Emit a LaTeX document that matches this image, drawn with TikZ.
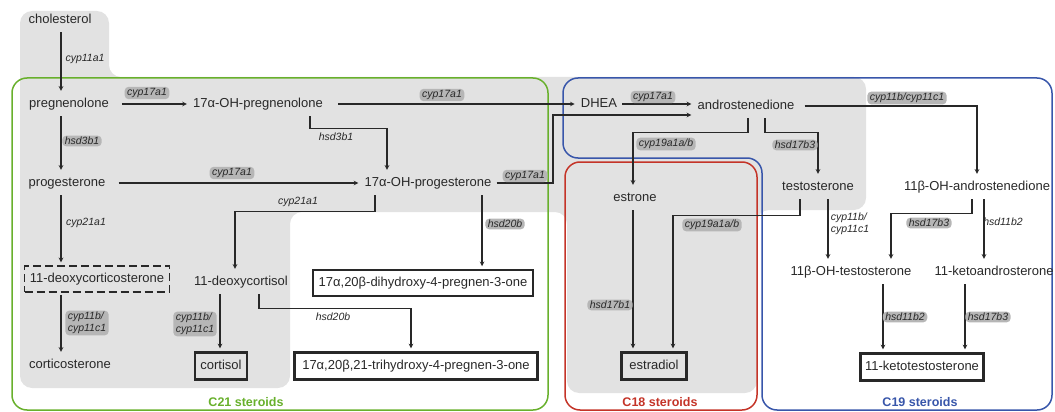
\documentclass[tikz,border=0pt]{standalone}
\usepackage{fontspec}
\setmainfont{Liberation Sans}
\usepackage{tikz}
\usetikzlibrary{calc}

\definecolor{bgray}{RGB}{226,226,226}
\definecolor{bubble}{RGB}{182,182,182}
\definecolor{txt}{RGB}{40,40,40}
\definecolor{c21green}{RGB}{104,176,44}
\definecolor{c18red}{RGB}{196,52,40}
\definecolor{c19blue}{RGB}{56,86,170}

\newcommand{\metfont}{\fontsize{13}{15}\selectfont}
\newcommand{\enzfont}{\fontsize{10.5}{12}\selectfont\itshape}
\newcommand{\grpfont}{\fontsize{12.5}{14}\selectfont\bfseries}

\begin{document}
\begin{tikzpicture}[x=1pt, y=-1pt, >=stealth,
		met/.style={inner xsep=3pt, inner ysep=4pt, text height=9.5pt, text depth=2.5pt, font=\metfont, text=txt},
		midbox/.style={met, draw=txt, line width=1.5pt, minimum height=26pt},
		endbox/.style={met, draw=txt, line width=2.2pt, minimum height=27pt},
		enz/.style={font=\enzfont, text=txt, inner sep=1pt, align=left},
		enzb/.style={enz, fill=bubble, rounded corners=4pt, inner xsep=2.5pt, inner ysep=1.5pt},
		flow/.style={->, line width=1.1pt, draw=txt, shorten >=3pt, shorten <=2pt},
		grp/.style={font=\grpfont}]

		\useasboundingbox (0,0) rectangle (1055,412);

		% Grey background
		\fill[bgray, rounded corners=12pt] (20,11) -- (109,11) -- (109,77) -- (866,77) -- (866,210)
			-- (757,210) -- (757,393) -- (567,393) -- (567,212) -- (290,212) -- (290,388) -- (20,388) -- cycle;

		% Steroid groups
		\draw[c21green, line width=1.5pt, rounded corners=15pt] (12,78) rectangle (548,410);
		\draw[c18red, line width=1.5pt, rounded corners=15pt] (565,162) rectangle (757,410);
		\draw[c19blue, line width=1.5pt, rounded corners=15pt] (563,78) -- (1052,78) -- (1052,410)
			-- (762,410) -- (762,158) -- (563,158) -- cycle;

		\node[grp, text=c21green] (t21) at (246,402) {C21 steroids};
		\node[grp, text=c18red] (t18) at (660,402) {C18 steroids};
		\node[grp, text=c19blue] (t19) at (920,402) {C19 steroids};

		% Row 1
		\node[met] (chol) at (60,20) {cholesterol};
		\node[met] (preg) at (69,104) {pregnenolone};
		\node[met] (ohpreg) at (258,104) {17α-OH-pregnenolone};
		\node[met] (dhea) at (599,104) {DHEA};
		\node[met] (andro) at (746,106) {androstenedione};

		% Row 2
		\node[met] (prog) at (67,183) {progesterone};
		\node[met] (ohprog) at (428,183) {17α-OH-progesterone};
		\node[met] (estrone) at (635,198) {estrone};
		\node[met] (testo) at (818,187) {testosterone};
		\node[met] (ohandro) at (977,187) {11β-OH-androstenedione};

		% Row 3
		\node[midbox, dashed, dash pattern=on 8pt off 4pt, minimum width=145pt] (doc) at (97,279) {11-deoxycorticosterone};
		\node[met] (dcort) at (241,282) {11-deoxycortisol};
		\node[midbox, minimum width=220pt] (dihyd) at (423,283) {17α,20β-dihydroxy-4-pregnen-3-one};
		\node[met] (ohtesto) at (851,272) {11β-OH-testosterone};
		\node[met] (ketoandro) at (994,272) {11-ketoandrosterone};

		% Row 4: end products
		\node[met] (cortico) at (70,365) {corticosterone};
		\node[endbox, minimum width=52pt] (cortisol) at (221,366) {cortisol};
		\node[endbox, minimum width=243pt] (trihyd) at (416,366) {17α,20β,21-trihydroxy-4-pregnen-3-one};
		\node[endbox, minimum width=65pt] (estradiol) at (654,366) {estradiol};
		\node[endbox, minimum width=123pt] (ketotesto) at (922,367) {11-ketotestosterone};

		% --- Connecting Lines ---

		% Left column (x = 61)
		\draw[flow] (chol.south -| 61,0) -- (preg.north -| 61,0)
			node[enz, anchor=west] at (64,59) {cyp11a1};
		\draw[flow] (preg.south -| 61,0) -- (prog.north -| 61,0)
			node[enzb] at (82,141) {hsd3b1};
		\draw[flow] (prog.south -| 61,0) -- (doc.north -| 61,0)
			node[enz] at (86,223) {cyp21a1};
		\draw[flow] (doc.south -| 61,0) -- (cortico.north -| 61,0)
			node[enzb] at (87,323) {cyp11b/\\cyp11c1};

		% Top row
		\draw[flow] ([xshift=8pt]preg.east) -- (ohpreg.west)
			node[enzb] at (147,93) {cyp17a1};
		\draw[flow] ([xshift=10pt]ohpreg.east) -- (dhea.west)
			node[enzb] at (442,95) {cyp17a1};
		\draw[flow] (dhea.east) -- (dhea.east -| andro.west)
			node[enzb] at (653,97) {cyp17a1};
		\draw[flow] (ohpreg.south -| 310,0) -- ++(0,14) -| (ohprog.north -| 387,0)
			node[enz] at (336,137) {hsd3b1};

		% Progesterone row
		\draw[flow] ([xshift=8pt]prog.east) -- (ohprog.west)
			node[enzb] at (232,173) {cyp17a1};
		\draw[flow] (ohprog.east) -- (ohprog.east -| 553,0) |- ([yshift=-9pt]andro.west)
			node[enzb] at (525,176) {cyp17a1};

		% 17a-OH-progesterone branches
		\draw[flow] (ohprog.south -| 375,0) -- ++(0,18) -| (dcort.north -| 235,0)
			node[enz] at (298,202) {cyp21a1};
		\draw[flow] (ohprog.south -| 482,0) -- (dihyd.north -| 482,0)
			node[enzb] at (505,224) {hsd20b};
		\draw[flow] (dcort.south -| 220,0) -- (cortisol.north -| 220,0)
			node[enzb] at (195,324) {cyp11b/\\cyp11c1};
		\draw[flow] (dcort.south -| 259,0) -- ++(0,16) -| (trihyd.north -| 411,0)
			node[enz] at (333,317) {hsd20b};

		% Androstenedione branches
		\draw[flow] (andro.south -| 748,0) -- ++(0,16) -| (estrone.north -| 633,0)
			node[enzb] at (666,144) {cyp19a1a/b};
		\draw[flow] (andro.south -| 765,0) -- ++(0,16) -| (testo.north)
			node[enzb] at (795,145) {hsd17b3};
		\draw[flow] ([xshift=5pt]andro.east) -| (ohandro.north)
			node[enzb] at (907,98) {cyp11b/cyp11c1};

		% C18 steroids
		\draw[flow] (estrone.south -| 633,0) -- (estradiol.north -| 633,0)
			node[enzb] at (610,305) {hsd17b1};
		\draw[flow] (testo.south -| 800,0) -- ++(0,18) -| (estradiol.north -| 673,0)
			node[enzb] at (712,225) {cyp19a1a/b};

		% C19 steroids
		\draw[flow] (testo.south -| 828,0) -- (ohtesto.north -| 828,0)
			node[enz] at (850,224) {cyp11b/\\cyp11c1};
		\draw[flow] (ohandro.south -| 972,0) -- ++(0,16) -| (ohtesto.north -| 891,0)
			node[enzb] at (929,223) {hsd17b3};
		\draw[flow] (ohandro.south -| 984,0) -- (ketoandro.north -| 984,0)
			node[enz] at (1003,222) {hsd11b2};
		\draw[flow] (ohtesto.south -| 883,0) -- (ketotesto.north -| 883,0)
			node[enzb] at (905,317) {hsd11b2};
		\draw[flow] (ketoandro.south -| 965,0) -- (ketotesto.north -| 965,0)
			node[enzb] at (988,317) {hsd17b3};

	\end{tikzpicture}
\end{document}
